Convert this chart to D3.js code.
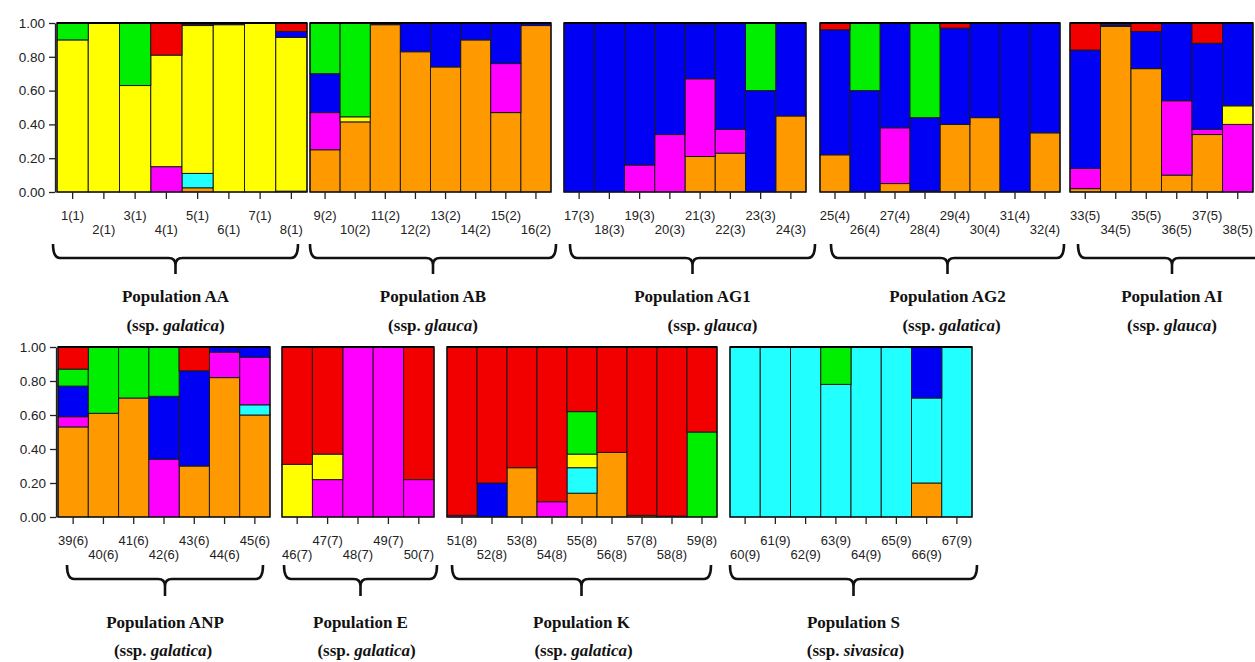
<!DOCTYPE html>
<html>
<head>
<meta charset="utf-8">
<script src="https://cdn.jsdelivr.net/npm/d3@7"></script>
<style>
  body { margin: 0; background: #fff; }
  svg { display: block; }
</style>
</head>
<body>
<svg id="chart"></svg>
<script>
// populations, in plot order
const populations = ['AA', 'AB', 'AG1', 'AG2', 'AI', 'ANP', 'E', 'K', 'S'];
const subspecies = ['galatica', 'glauca', 'glauca', 'galatica', 'glauca', 'galatica', 'galatica', 'galatica', 'sivasica'];
const popSizes = [8, 8, 8, 8, 6, 7, 5, 9, 8];

// clusters, bottom to top of each bar
const clusters = ['orange', 'cyan', 'magenta', 'yellow', 'blue', 'green', 'red'];
const clusterColors = ['#FF9900', '#22FFFF', '#FF00FF', '#FFFF00', '#0000F5', '#00EE00', '#F20000'];
const yTicks = [0, 0.2, 0.4, 0.6, 0.8, 1.0];

// membership coefficients, individuals 1..67 (one line per population)
const orange = [
  0, 0, 0, 0, 0.025, 0, 0, 0.005,
  0.25, 0.415, 0.99, 0.83, 0.74, 0.90, 0.47, 0.985,
  0, 0, 0, 0, 0.21, 0.23, 0, 0.45,
  0.22, 0, 0.05, 0.005, 0.40, 0.44, 0, 0.35,
  0.02, 0.98, 0.73, 0.10, 0.34, 0,
  0.53, 0.61, 0.70, 0, 0.30, 0.82, 0.60,
  0, 0, 0, 0, 0,
  0, 0, 0.29, 0, 0.14, 0.38, 0.01, 0.005, 0,
  0, 0, 0, 0, 0, 0, 0.20, 0
];
const cyan = [
  0, 0, 0, 0, 0.085, 0, 0, 0,
  0, 0, 0, 0, 0, 0, 0, 0,
  0, 0, 0, 0, 0, 0, 0, 0,
  0, 0, 0, 0, 0, 0, 0, 0,
  0, 0, 0, 0, 0, 0,
  0, 0, 0, 0, 0, 0, 0.06,
  0, 0, 0, 0, 0,
  0, 0, 0, 0, 0.15, 0, 0, 0, 0,
  1, 1, 1, 0.78, 1, 1, 0.50, 1
];
const magenta = [
  0, 0, 0, 0.15, 0, 0, 0, 0,
  0.22, 0, 0, 0, 0, 0, 0.29, 0,
  0, 0, 0.16, 0.34, 0.46, 0.14, 0, 0,
  0, 0, 0.33, 0, 0, 0, 0, 0,
  0.12, 0, 0, 0.44, 0.03, 0.40,
  0.06, 0, 0, 0.34, 0, 0.15, 0.28,
  0, 0.22, 1, 1, 0.22,
  0.01, 0, 0, 0.09, 0, 0, 0, 0, 0,
  0, 0, 0, 0, 0, 0, 0, 0
];
const yellow = [
  0.90, 1, 0.63, 0.66, 0.875, 0.99, 1, 0.91,
  0, 0.03, 0, 0, 0, 0, 0, 0,
  0, 0, 0, 0, 0, 0, 0, 0,
  0, 0, 0, 0, 0, 0, 0, 0,
  0, 0, 0, 0, 0, 0.11,
  0, 0, 0, 0, 0, 0, 0,
  0.31, 0.15, 0, 0, 0,
  0, 0, 0, 0, 0.08, 0, 0, 0, 0,
  0, 0, 0, 0, 0, 0, 0, 0
];
const blue = [
  0, 0, 0, 0, 0.008, 0.01, 0, 0.035,
  0.23, 0, 0.01, 0.17, 0.26, 0.10, 0.24, 0.015,
  1, 1, 0.84, 0.66, 0.325, 0.63, 0.60, 0.55,
  0.74, 0.60, 0.62, 0.435, 0.57, 0.56, 1, 0.65,
  0.70, 0.01, 0.22, 0.46, 0.51, 0.49,
  0.18, 0, 0, 0.37, 0.56, 0.03, 0.06,
  0, 0, 0, 0, 0,
  0, 0.20, 0, 0, 0, 0, 0, 0, 0,
  0, 0, 0, 0, 0, 0, 0.30, 0
];
const green = [
  0.10, 0, 0.37, 0, 0, 0, 0, 0,
  0.30, 0.555, 0, 0, 0, 0, 0, 0,
  0, 0, 0, 0, 0, 0, 0.40, 0,
  0, 0.40, 0, 0.56, 0, 0, 0, 0,
  0, 0, 0, 0, 0, 0,
  0.10, 0.39, 0.30, 0.29, 0, 0, 0,
  0, 0, 0, 0, 0,
  0, 0, 0, 0, 0.25, 0, 0, 0, 0.50,
  0, 0, 0, 0.22, 0, 0, 0, 0
];
const red = [
  0, 0, 0, 0.19, 0.007, 0, 0, 0.05,
  0, 0, 0, 0, 0, 0, 0, 0,
  0, 0, 0, 0, 0.005, 0, 0, 0,
  0.04, 0, 0, 0, 0.03, 0, 0, 0,
  0.16, 0.01, 0.05, 0, 0.12, 0,
  0.13, 0, 0, 0, 0.14, 0, 0,
  0.69, 0.63, 0, 0, 0.78,
  0.99, 0.80, 0.71, 0.91, 0.38, 0.62, 0.99, 0.995, 0.50,
  0, 0, 0, 0, 0, 0, 0, 0
];

// page layout
const width = 1255, height = 662;
const rows = [{ top: 23, bottom: 192 }, { top: 347, bottom: 517 }];
const panelLayout = [
  { row: 0, x0: 57, x1: 307, b0: 53, b1: 298, dxSub: 0 },
  { row: 0, x0: 310, x1: 551, b0: 310, b1: 556, dxSub: 0 },
  { row: 0, x0: 564, x1: 806, b0: 570, b1: 815, dxSub: 20 },
  { row: 0, x0: 820, x1: 1060, b0: 831, b1: 1064, dxSub: 4 },
  { row: 0, x0: 1070, x1: 1253, b0: 1078, b1: 1266, dxSub: 0 },
  { row: 1, x0: 58, x1: 270, b0: 67, b1: 263, dxSub: -2 },
  { row: 1, x0: 282, x1: 434, b0: 284, b1: 437, dxSub: 6 },
  { row: 1, x0: 447, x1: 717, b0: 452, b1: 711, dxSub: 2 },
  { row: 1, x0: 730, x1: 972, b0: 730, b1: 977, dxSub: 2 }
];
const braceY = [{ tip: 244, line: 258, stem: 274, title: 302, sub: 331 },
                { tip: 565, line: 579, stem: 596, title: 628, sub: 656 }];

const series = { orange, cyan, magenta, yellow, blue, green, red };
const color = d3.scaleOrdinal(clusters, clusterColors);

// one record per individual
let counter = 0;
const individuals = [];
populations.forEach((p, pi) => {
  for (let k = 0; k < popSizes[pi]; k++) {
    const idx = counter++;
    const rec = { id: `${idx + 1}(${pi + 1})`, num: idx + 1, pop: pi };
    clusters.forEach(c => { rec[c] = series[c][idx]; });
    individuals.push(rec);
  }
});

const stacked = d3.stack().keys(clusters)(individuals);

const svg = d3.select('#chart')
  .attr('width', width)
  .attr('height', height)
  .attr('viewBox', [0, 0, width, height]);

populations.forEach((p, pi) => {
  const L = panelLayout[pi];
  const R = rows[L.row];
  const members = individuals.filter(d => d.pop === pi);

  const x = d3.scaleBand()
    .domain(members.map(d => d.id))
    .range([L.x0, L.x1]);

  const y = d3.scaleLinear()
    .domain([0, 1])
    .range([R.bottom, R.top]);

  const g = svg.append('g');

  // stacked bars
  g.selectAll('g.layer')
    .data(stacked)
    .join('g')
    .attr('class', 'layer')
    .attr('fill', s => color(s.key))
    .selectAll('rect')
    .data(s => s.filter(d => d.data.pop === pi && d[1] - d[0] > 0))
    .join('rect')
    .attr('x', d => x(d.data.id))
    .attr('width', x.bandwidth())
    .attr('y', d => y(Math.min(d[1], 1)))
    .attr('height', d => y(d[0]) - y(Math.min(d[1], 1)))
    .attr('stroke', '#1a1a1a')
    .attr('stroke-width', 1);

  // frame
  g.append('rect')
    .attr('x', L.x0)
    .attr('y', R.top)
    .attr('width', L.x1 - L.x0)
    .attr('height', R.bottom - R.top)
    .attr('fill', 'none')
    .attr('stroke', '#111')
    .attr('stroke-width', 1.3);
  g.append('line')
    .attr('x1', L.x0).attr('x2', L.x1)
    .attr('y1', R.top).attr('y2', R.top)
    .attr('stroke', '#000').attr('stroke-width', 2.2);

  // x ticks and staggered labels
  const xAxis = g.append('g')
    .attr('transform', `translate(0,${R.bottom})`)
    .call(d3.axisBottom(x).tickSize(7).tickSizeOuter(0));
  xAxis.select('.domain').remove();
  xAxis.selectAll('.tick line').attr('stroke', '#222').attr('stroke-width', 1.3);
  xAxis.selectAll('.tick text')
    .attr('font-family', 'Liberation Sans, Arial, sans-serif')
    .attr('font-size', 13)
    .attr('fill', '#222')
    .attr('y', id => (individuals.find(d => d.id === id).num % 2 === 1 ? 19 : 33))
    .attr('dy', '0.71em');

  // y axis on the first panel of each row
  if (pi === 0 || pi === 5) {
    const yAxis = g.append('g')
      .attr('transform', `translate(${L.x0 - 2},0)`)
      .call(d3.axisLeft(y).tickValues(yTicks).tickFormat(d3.format('.2f')).tickSize(6).tickSizeOuter(0));
    yAxis.select('.domain').attr('stroke', '#222').attr('stroke-width', 1.3);
    yAxis.selectAll('.tick line').attr('stroke', '#222').attr('stroke-width', 1.3);
    yAxis.selectAll('.tick text')
      .attr('font-family', 'Liberation Sans, Arial, sans-serif')
      .attr('font-size', 13.5)
      .attr('fill', '#222')
      .attr('x', -10);
  }

  // brace under the panel
  const B = braceY[L.row];
  const cx = (L.b0 + L.b1) / 2;
  const r = 7;
  const path = d3.path();
  path.moveTo(L.b0, B.tip);
  path.quadraticCurveTo(L.b0, B.line, L.b0 + r, B.line);
  path.lineTo(cx - r, B.line);
  path.quadraticCurveTo(cx, B.line, cx, B.line + r);
  path.lineTo(cx, B.stem);
  path.moveTo(cx, B.line + r);
  path.quadraticCurveTo(cx, B.line, cx + r, B.line);
  path.lineTo(L.b1 - r, B.line);
  path.quadraticCurveTo(L.b1, B.line, L.b1, B.tip);
  g.append('path')
    .attr('d', path.toString())
    .attr('fill', 'none')
    .attr('stroke', '#111')
    .attr('stroke-width', 2.6);

  // population titles
  g.append('text')
    .attr('x', cx)
    .attr('y', B.title)
    .attr('text-anchor', 'middle')
    .attr('font-family', 'Liberation Serif, Times New Roman, serif')
    .attr('font-weight', 'bold')
    .attr('font-size', 17)
    .attr('fill', '#111')
    .text(`Population ${p}`);

  const sub = g.append('text')
    .attr('x', cx + L.dxSub)
    .attr('y', B.sub)
    .attr('text-anchor', 'middle')
    .attr('font-family', 'Liberation Serif, Times New Roman, serif')
    .attr('font-weight', 'bold')
    .attr('font-size', 17)
    .attr('fill', '#111');
  sub.append('tspan').text('(ssp. ');
  sub.append('tspan').attr('font-style', 'italic').text(subspecies[pi]);
  sub.append('tspan').text(')');
});
</script>
</body>
</html>
